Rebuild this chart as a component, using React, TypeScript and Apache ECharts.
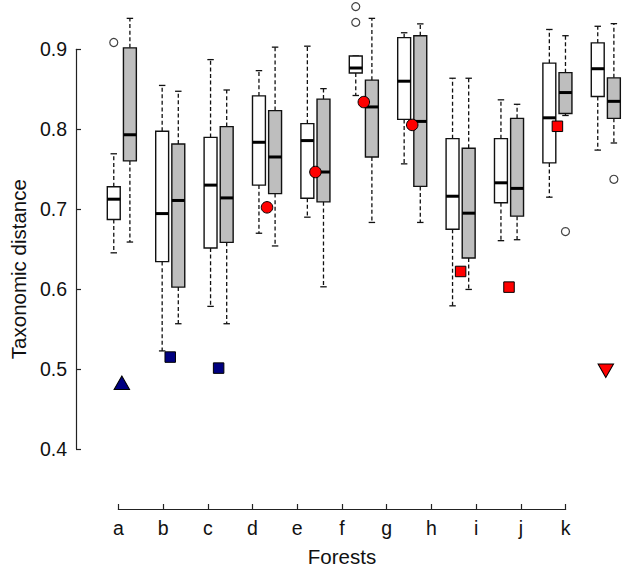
import React, { useEffect, useRef } from "react";
import * as echarts from "echarts";

const forests = ["a", "b", "c", "d", "e", "f", "g", "h", "i", "j", "k"];

// white boxes (left of each pair)
const whiteMin = [0.6454, 0.5227, 0.5784, 0.6699, 0.69, 0.8422, 0.7567, 0.5791, 0.6606, 0.715, 0.7739];
const whiteQ1 = [0.6871, 0.6344, 0.6515, 0.7301, 0.7137, 0.8704, 0.8123, 0.6749, 0.708, 0.7579, 0.841];
const whiteMedian = [0.7125, 0.6945, 0.7301, 0.7837, 0.7858, 0.8766, 0.8601, 0.7162, 0.733, 0.8143, 0.8757];
const whiteQ3 = [0.7281, 0.7975, 0.7898, 0.8417, 0.807, 0.8917, 0.9146, 0.7882, 0.7882, 0.8827, 0.908];
const whiteMax = [0.7693, 0.8548, 0.8871, 0.8733, 0.9039, 0.8917, 0.9207, 0.8638, 0.8368, 0.9248, 0.9288];

// grey boxes (right of each pair)
const greyMin = [0.6589, 0.5567, 0.5567, 0.654, 0.6029, 0.6834, 0.6834, 0.5996, 0.6618, 0.8172, 0.7828];
const greyQ1 = [0.7604, 0.6025, 0.6585, 0.7195, 0.7092, 0.7653, 0.7285, 0.6389, 0.6913, 0.8196, 0.8136];
const greyMedian = [0.7931, 0.7109, 0.7141, 0.7653, 0.7465, 0.8279, 0.8098, 0.695, 0.726, 0.8459, 0.8349];
const greyQ3 = [0.9018, 0.7816, 0.8033, 0.8233, 0.8377, 0.8614, 0.917, 0.7763, 0.8136, 0.8708, 0.8643];
const greyMax = [0.9387, 0.8475, 0.8491, 0.9027, 0.8508, 0.9387, 0.9318, 0.8638, 0.8312, 0.917, 0.9321];

// outliers
const whiteOutlierForest = ["a", "f", "f"];
const whiteOutlierValue = [0.9085, 0.9534, 0.9337];
const greyOutlierForest = ["j", "k"];
const greyOutlierValue = [0.672, 0.7374];

// special markers
const redCircleForest = ["d", "e", "f", "g"];
const redCircleValue = [0.7023, 0.7465, 0.834, 0.8054];
const redSquareForest = ["h", "i", "j"];
const redSquareValue = [0.6221, 0.6025, 0.8037];
const redTriangleForest = ["k"];
const redTriangleValue = [0.4978];
const blueTriangleForest = ["a"];
const blueTriangleValue = [0.4828];
const blueSquareForest = ["b", "c"];
const blueSquareValue = [0.515, 0.5012];

const yTicks = [0.4, 0.5, 0.6, 0.7, 0.8, 0.9];

// box-position scale (boxes are spaced wider than the labelled ticks)
const BOX_AXIS_MIN = 0.9272;
const BOX_AXIS_MAX = 10.1713;

const PAIR_OFFSET = 1 / 6;
const BOX_W = 0.267;
const FONT = "Liberation Sans, Arial, sans-serif";

const pos = (f: string) => forests.indexOf(f) + 1;

function boxData(mins: number[], q1: number[], med: number[], q3: number[], maxs: number[]) {
  return forests.map((_, i) => [i + 1, mins[i], q1[i], med[i], q3[i], maxs[i]]);
}

function makeRender(offset: number, fill: string) {
  return (params: any, api: any) => {
    const x = api.value(0) + offset;
    const lo = api.coord([x, api.value(1)]);
    const q1 = api.coord([x, api.value(2)]);
    const md = api.coord([x, api.value(3)]);
    const q3 = api.coord([x, api.value(4)]);
    const hi = api.coord([x, api.value(5)]);
    const hw = api.size([BOX_W, 0])[0] / 2;
    const cw = hw / 2;
    const cx = q1[0];
    const dash = { stroke: "#111", lineWidth: 1.3, lineDash: [4, 2.6] };
    const solid = { stroke: "#111", lineWidth: 1.3 };
    const children: any[] = [];
    if (hi[1] < q3[1] - 0.5) {
      children.push({ type: "line", shape: { x1: cx, y1: q3[1], x2: cx, y2: hi[1] }, style: dash });
    }
    children.push({ type: "line", shape: { x1: cx - cw, y1: hi[1], x2: cx + cw, y2: hi[1] }, style: solid });
    if (lo[1] > q1[1] + 0.5) {
      children.push({ type: "line", shape: { x1: cx, y1: q1[1], x2: cx, y2: lo[1] }, style: dash });
    }
    children.push({ type: "line", shape: { x1: cx - cw, y1: lo[1], x2: cx + cw, y2: lo[1] }, style: solid });
    children.push({
      type: "rect",
      shape: { x: cx - hw, y: q3[1], width: hw * 2, height: q1[1] - q3[1] },
      style: { fill, stroke: "#111", lineWidth: 1.4 },
    });
    children.push({
      type: "line",
      shape: { x1: cx - hw, y1: md[1], x2: cx + hw, y2: md[1] },
      style: { stroke: "#000", lineWidth: 3 },
    });
    return { type: "group", children };
  };
}

function pts(fs: string[], vs: number[], offset = 0) {
  return fs.map((f, i) => [pos(f) + offset, vs[i]]);
}

export default function App() {
  const ref = useRef<HTMLDivElement>(null);
  useEffect(() => {
    if (!ref.current) return;
    const chart = echarts.init(ref.current, null, { renderer: "svg" });
    const axisTextStyle = { color: "#111", fontFamily: FONT, fontSize: 19.5 };
    const scatterBase = { type: "scatter", clip: false, xAxisIndex: 1 };
    chart.setOption({
      animation: false,
      grid: { left: 108.3, right: 59.3, top: 49.3, bottom: 115.3, containLabel: false },
      xAxis: [
        {
          type: "value",
          min: 1,
          max: 11,
          interval: 1,
          offset: 60,
          name: "Forests",
          nameLocation: "middle",
          nameGap: 37,
          nameTextStyle: { ...axisTextStyle, fontSize: 20.5 },
          axisLine: { show: true, lineStyle: { color: "#222", width: 1.2 } },
          axisTick: { show: true, inside: true, length: 5, lineStyle: { color: "#222", width: 1.2 } },
          axisLabel: {
            ...axisTextStyle,
            margin: 9,
            formatter: (v: number) => forests[Math.round(v) - 1] ?? "",
          },
          splitLine: { show: false },
        },
        {
          type: "value",
          min: BOX_AXIS_MIN,
          max: BOX_AXIS_MAX,
          show: false,
          splitLine: { show: false },
        },
      ],
      yAxis: {
        type: "value",
        min: yTicks[0],
        max: yTicks[yTicks.length - 1],
        interval: 0.1,
        offset: 42.3,
        name: "Taxonomic distance",
        nameLocation: "middle",
        nameGap: 36,
        nameTextStyle: { ...axisTextStyle, fontSize: 20.5, padding: [0, 40, 0, 0] },
        axisLine: { show: true, lineStyle: { color: "#222", width: 1.2 } },
        axisTick: { show: true, inside: true, length: 5, lineStyle: { color: "#222", width: 1.2 } },
        axisLabel: { ...axisTextStyle, margin: 9, formatter: (v: number) => v.toFixed(1) },
        splitLine: { show: false },
      },
      series: [
        {
          type: "custom",
          name: "white",
          clip: false,
          xAxisIndex: 1,
          renderItem: makeRender(-PAIR_OFFSET, "#ffffff"),
          encode: { x: 0, y: [1, 2, 3, 4, 5] },
          data: boxData(whiteMin, whiteQ1, whiteMedian, whiteQ3, whiteMax),
          z: 2,
        },
        {
          type: "custom",
          name: "grey",
          clip: false,
          xAxisIndex: 1,
          renderItem: makeRender(PAIR_OFFSET, "#bebebe"),
          encode: { x: 0, y: [1, 2, 3, 4, 5] },
          data: boxData(greyMin, greyQ1, greyMedian, greyQ3, greyMax),
          z: 2,
        },
        {
          ...scatterBase,
          symbol: "circle",
          symbolSize: 8,
          itemStyle: { color: "rgba(0,0,0,0)", borderColor: "#111", borderWidth: 1.2 },
          data: pts(whiteOutlierForest, whiteOutlierValue, -PAIR_OFFSET),
          z: 3,
        },
        {
          ...scatterBase,
          symbol: "circle",
          symbolSize: 8,
          itemStyle: { color: "rgba(0,0,0,0)", borderColor: "#111", borderWidth: 1.2 },
          data: pts(greyOutlierForest, greyOutlierValue, PAIR_OFFSET),
          z: 3,
        },
        {
          ...scatterBase,
          symbol: "circle",
          symbolSize: 11.5,
          itemStyle: { color: "#ff0000", borderColor: "#000", borderWidth: 1, opacity: 1 },
          data: pts(redCircleForest, redCircleValue),
          z: 4,
        },
        {
          ...scatterBase,
          symbol: "rect",
          symbolSize: 10.5,
          itemStyle: { color: "#ff0000", borderColor: "#000", borderWidth: 1, opacity: 1 },
          data: pts(redSquareForest, redSquareValue),
          z: 4,
        },
        {
          ...scatterBase,
          symbol: "triangle",
          symbolSize: [15.5, 13.5],
          symbolRotate: 180,
          itemStyle: { color: "#ff0000", borderColor: "#000", borderWidth: 1, opacity: 1 },
          data: pts(redTriangleForest, redTriangleValue),
          z: 4,
        },
        {
          ...scatterBase,
          symbol: "triangle",
          symbolSize: [15.5, 13.5],
          itemStyle: { color: "#000080", borderColor: "#000", borderWidth: 1, opacity: 1 },
          data: pts(blueTriangleForest, blueTriangleValue),
          z: 4,
        },
        {
          ...scatterBase,
          symbol: "rect",
          symbolSize: 10.5,
          itemStyle: { color: "#000080", borderColor: "#000", borderWidth: 1, opacity: 1 },
          data: pts(blueSquareForest, blueSquareValue),
          z: 4,
        },
      ],
    });
    return () => chart.dispose();
  }, []);
  return (
    <div
      ref={ref}
      style={{ position: "fixed", left: 0, top: 0, width: 625, height: 572, background: "#fff" }}
    />
  );
}
